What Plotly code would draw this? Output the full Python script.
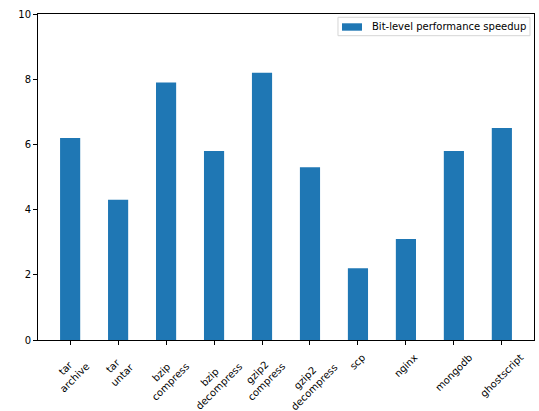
import plotly.graph_objects as go

categories = ["tar<br>archive", "tar<br>untar", "bzip<br>compress", "bzip<br>decompress",
              "gzip2<br>compress", "gzip2<br>decompress", "scp", "nginx", "mongodb", "ghostscript"]
speedup = [6.2, 4.3, 7.9, 5.8, 8.2, 5.3, 2.2, 3.1, 5.8, 6.5]
series_name = "Bit-level performance speedup"
y_ticks = [0, 2, 4, 6, 8, 10]

BAR_COLOR = "#1f77b4"
FONT = "DejaVu Sans"

xs = list(range(len(categories)))

fig = go.Figure()
fig.add_trace(go.Bar(x=xs, y=speedup, width=0.42, name=series_name,
                     marker=dict(color=BAR_COLOR, line=dict(width=0)),
                     showlegend=False))

annotations = []
for i, lab in enumerate(categories):
    annotations.append(dict(x=i, y=0, xref="x", yref="paper", text=lab, showarrow=False,
                            textangle=-45, xanchor="center", yanchor="top", yshift=-9,
                            align="center",
                            font=dict(family=FONT, size=10, color="black")))

# legend (drawn as a box, patch and label in paper coordinates)
annotations.append(dict(x=0.6708, y=0.9617, xref="paper", yref="paper", text=series_name,
                        showarrow=False, xanchor="left", yanchor="middle",
                        font=dict(family=FONT, size=10, color="black"), borderpad=0))
shapes = [
    dict(type="rect", xref="paper", yref="paper", x0=0.6048, x1=0.9919, y0=0.9334, y1=0.9899,
         line=dict(color="#d5d5d5", width=1), fillcolor="rgba(255,255,255,0.8)", layer="above"),
    dict(type="rect", xref="paper", yref="paper", x0=0.6129, x1=0.6532, y0=0.9488, y1=0.9715,
         line=dict(width=0), fillcolor=BAR_COLOR, layer="above"),
]

fig.update_layout(
    width=539, height=411,
    margin=dict(l=38, r=5, t=14, b=71),
    paper_bgcolor="white", plot_bgcolor="white",
    showlegend=False,
    annotations=annotations,
    shapes=shapes,
    font=dict(family=FONT, size=10, color="black"),
)
fig.update_xaxes(range=[-0.67, 9.67], tickvals=xs, ticktext=["" for _ in xs],
                 ticks="outside", ticklen=4, tickcolor="black", tickwidth=1,
                 showline=True, linecolor="black", linewidth=1, mirror=True,
                 showgrid=False, zeroline=False)
fig.update_yaxes(range=[0, 10], tickvals=y_ticks, ticks="outside", ticklen=4,
                 tickcolor="black", tickwidth=1,
                 showline=True, linecolor="black", linewidth=1, mirror=True,
                 showgrid=False, zeroline=False,
                 tickfont=dict(family=FONT, size=10, color="black"))

fig.write_html("out.html")
